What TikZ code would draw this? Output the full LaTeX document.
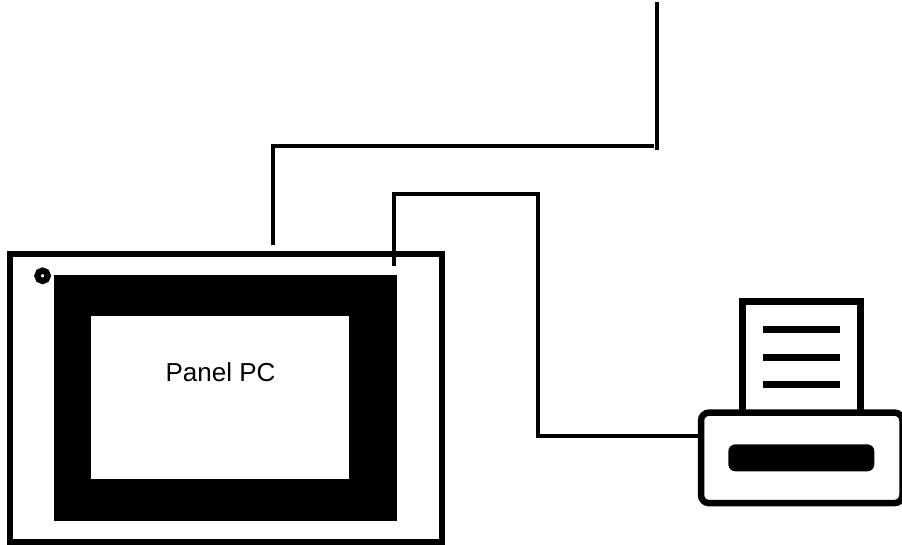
\documentclass[tikz,border=0pt]{standalone}
\usepackage{fontspec}
\setmainfont{Liberation Sans}
\begin{document}
\begin{tikzpicture}[x=1pt,y=-1pt,
  box/.style={draw=black,fill=white,rectangle,inner sep=0pt,outer sep=0pt},
  solid box/.style={fill=black,rectangle,inner sep=0pt,outer sep=0pt},
  wire/.style={draw=black,line width=3.6pt,line join=miter},
  heavy/.style={line width=6.5pt},
  textline/.style={fill=black,rectangle,inner sep=0pt,outer sep=0pt,minimum width=76.4pt,minimum height=7pt}]
\useasboundingbox (0,0) rectangle (902,544);
% Panel PC
\node[box,line width=6pt,minimum width=432pt,minimum height=287.5pt] (panel) at (225.5,397.75) {};
\node[solid box,minimum width=342.5pt,minimum height=246pt] (bezel) at (225.25,398) {};
\node[fill=white,rectangle,inner sep=0pt,outer sep=0pt,minimum width=258pt,minimum height=162.5pt] (screen) at (220,397.25) {};
\node[font=\fontsize{26}{30}\selectfont,inner sep=0pt,anchor=base] (label) at (220.5,381.5) {Panel PC};
\node[circle,draw=black,fill=white,line width=6.3pt,minimum size=10.3pt,inner sep=0pt,outer sep=0pt] (led) at (42.6,275.8) {};
% Printer
\node[box,heavy,minimum width=118.2pt,minimum height=115pt] (paper) at (801.4,359) {};
\node[textline] (l1) at (801.5,329.5) {};
\node[textline] (l2) at (801.5,357.2) {};
\node[textline] (l3) at (801.5,384.9) {};
\node[box,heavy,rounded corners=8pt,minimum width=201.5pt,minimum height=90.5pt] (printer) at (801.75,457.85) {};
\node[solid box,rounded corners=7pt,minimum width=146pt,minimum height=27pt] (slot) at (801.3,457.8) {};
% Wires
\coordinate (a0) at (273,245);
\coordinate (a1) at (273,146.2);
\coordinate (a2) at (653.7,146.2);
\coordinate (b0) at (657.2,2);
\coordinate (b1) at (657.2,149.5);
\coordinate (c0) at (393.8,266);
\coordinate (c1) at (393.8,194);
\coordinate (c2) at (538,194);
\coordinate (c3) at (538,436);
\coordinate (c4) at (printer.west |- c3);
\draw[wire] (a0) -- (a1) -- (a2);
\draw[wire] (b0) -- (b1);
\draw[wire] (c0) -- (c1) -- (c2) -- (c3) -- (c4);
\end{tikzpicture}
\end{document}
